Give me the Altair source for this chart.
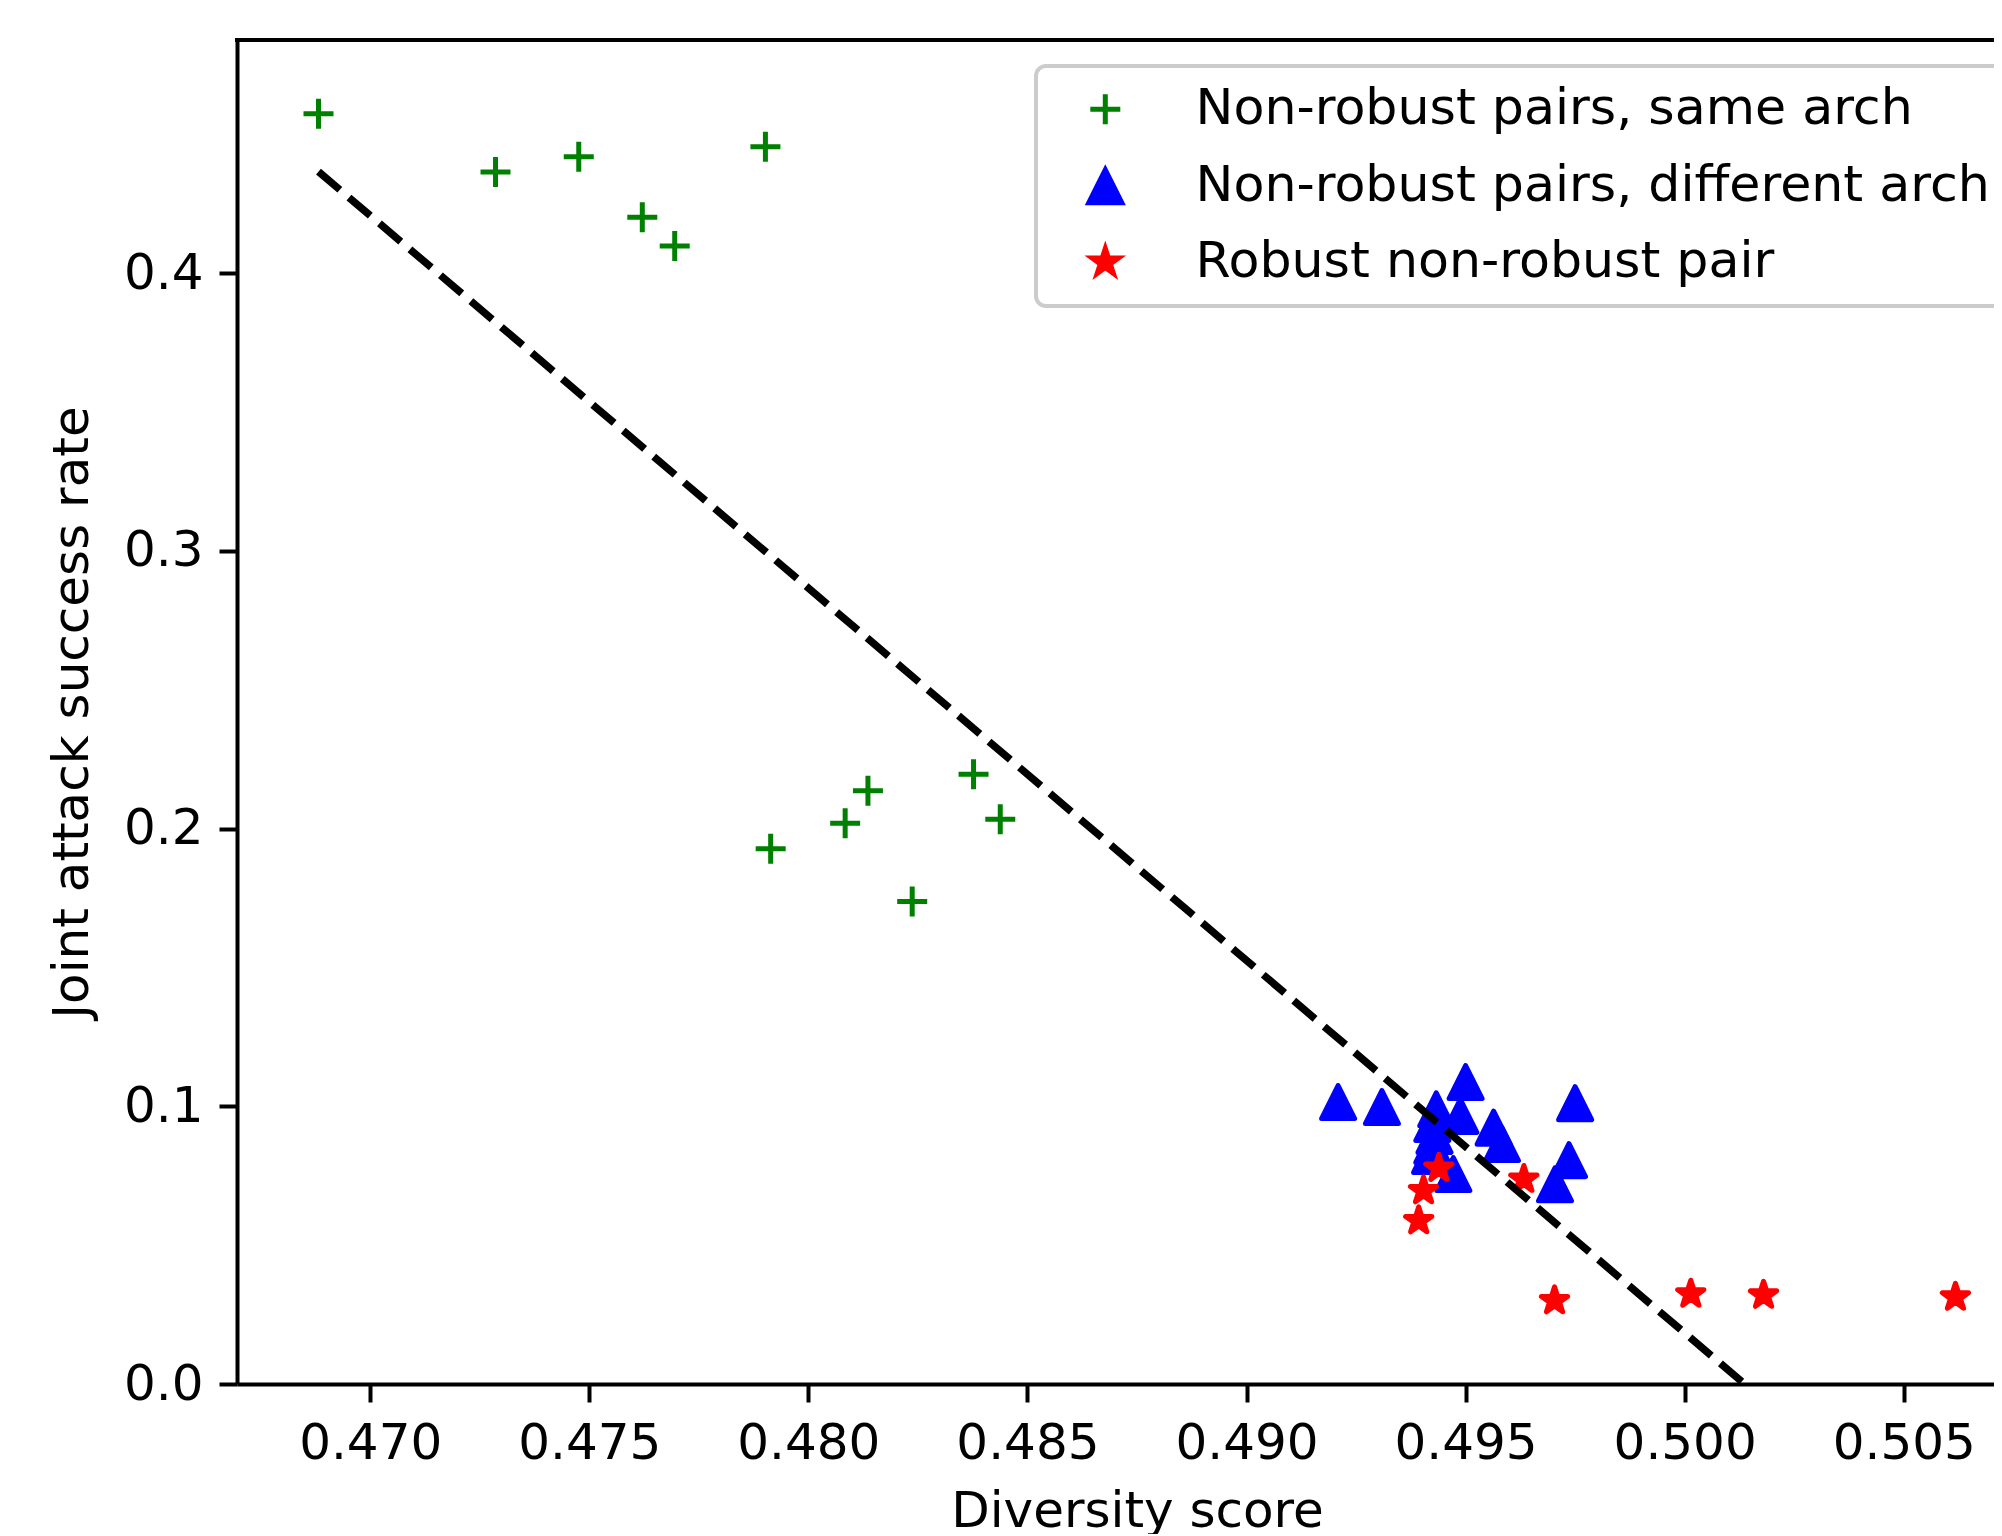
import math
import altair as alt
import pandas as pd

FONT = "DejaVu Sans"

# ---------------- data ----------------
SERIES = ["Non-robust pairs, same arch",
          "Non-robust pairs, different arch",
          "Robust non-robust pair"]
COLORS = ["#008000", "#0000ff", "#ff0000"]

same_x = [0.46882, 0.47286, 0.47476, 0.47902, 0.47621, 0.47695,
          0.47914, 0.48084, 0.48136, 0.48377, 0.48438, 0.48237]
same_y = [0.4573, 0.4364, 0.4419, 0.4455, 0.4201, 0.4097,
          0.1927, 0.2019, 0.2136, 0.2195, 0.2033, 0.1737]

diff_x = [0.49209, 0.49309, 0.49500, 0.49750, 0.49488, 0.49433, 0.49564, 0.49583,
          0.49424, 0.49429, 0.49424, 0.49419, 0.49472, 0.49736, 0.49704]
diff_y = [0.1015, 0.0997, 0.1087, 0.1011, 0.0965, 0.0989, 0.0923, 0.0864,
          0.0936, 0.0893, 0.0857, 0.0821, 0.0756, 0.0806, 0.0719]

rob_x = [0.49439, 0.49404, 0.49393, 0.49633, 0.49703, 0.50014, 0.50180, 0.50618]
rob_y = [0.0777, 0.0696, 0.0588, 0.0737, 0.0300, 0.0324, 0.0320, 0.0313]

line_x = [0.46882, 0.50618]
line_y = [0.4365, -0.0645]

x_ticks = [0.470, 0.475, 0.480, 0.485, 0.490, 0.495, 0.500, 0.505]
y_ticks = [0.0, 0.1, 0.2, 0.3, 0.4]

X_DOMAIN = [0.46696, 0.50706]
Y_DOMAIN = [0.0, 0.48389]

# ---------------- layout ----------------
W, H = 1757, 1344
PAD = {"left": 229, "top": 32, "right": 0, "bottom": 150}


# ---------------- marker shapes (unit paths, scaled by sqrt(size)/2) ----------------
def star_path(r_out, r_in):
    pts = []
    for k in range(10):
        a = math.pi * k / 5
        r = r_out if k % 2 == 0 else r_in
        pts.append((r * math.sin(a), -r * math.cos(a)))
    return "M" + "L".join(f"{px:.4f},{py:.4f}" for px, py in pts) + "Z"


PLUS = "M-1,0H1M0,-1V1"
TRI = "M0,-1.1L1.1,1.1L-1.1,1.1Z"
STAR = star_path(0.92, 0.92 * 0.381966)
SHAPES = [PLUS, TRI, STAR]

rows = []
for name, xs, ys in [(SERIES[0], same_x, same_y),
                     (SERIES[1], diff_x, diff_y),
                     (SERIES[2], rob_x, rob_y)]:
    for a, b in zip(xs, ys):
        rows.append({"x": a, "y": b, "series": name})
pts_df = pd.DataFrame(rows)
line_df = pd.DataFrame({"x": line_x, "y": line_y})

axis_common = dict(
    grid=False, domainColor="black", domainWidth=4, tickColor="black",
    tickWidth=4, tickSize=18, labelFont=FONT, labelFontSize=50,
    labelColor="black", labelPadding=16, titleFont=FONT, titleFontSize=50,
    titleFontWeight="normal", titleColor="black", labelFlush=False,
    labelOverlap=False,
)

X = alt.X("x:Q",
          scale=alt.Scale(domain=X_DOMAIN, nice=False, zero=False),
          axis=alt.Axis(values=x_ticks, format=".3f", title="Diversity score",
                        titleX=900, titleY=142, titleBaseline="alphabetic",
                        titleAlign="center", **axis_common))
Y = alt.Y("y:Q",
          scale=alt.Scale(domain=Y_DOMAIN, nice=False, zero=False),
          axis=alt.Axis(values=y_ticks, format=".1f",
                        title="Joint attack success rate",
                        titleX=-150, titleY=672, titleAngle=270,
                        titleBaseline="alphabetic", titleAlign="center",
                        **axis_common))

legend = alt.Legend(
    title=None, orient="none", legendX=799, legendY=26, padding=18,
    symbolOffset=26, labelOffset=65, rowPadding=24, labelFont=FONT,
    labelFontSize=50.6, labelColor="black", labelLimit=3000,
    strokeColor="#cccccc", cornerRadius=10, fillColor="white",
    symbolSize=900, symbolStrokeWidth=5,
)

points = alt.Chart(pts_df).mark_point(
    filled=True, size=900, opacity=1, strokeWidth=5, strokeJoin="round"
).encode(
    x=X, y=Y,
    fill=alt.Fill("series:N", scale=alt.Scale(domain=SERIES, range=COLORS), legend=legend),
    stroke=alt.Stroke("series:N", scale=alt.Scale(domain=SERIES, range=COLORS), legend=legend),
    shape=alt.Shape("series:N", scale=alt.Scale(domain=SERIES, range=SHAPES), legend=legend),
)

line = alt.Chart(line_df).mark_line(
    color="black", strokeWidth=7.5, strokeDash=[28, 12], clip=True
).encode(x=X, y=Y)

top_spine = alt.Chart(pd.DataFrame({"d": [0]})).mark_rule(
    color="black", strokeWidth=4
).encode(x=alt.value(-2), x2=alt.value(W), y=alt.value(0))

chart = alt.layer(points, line, top_spine).properties(
    width=W, height=H,
    autosize=alt.AutoSizeParams(type="none"),
    padding=PAD,
    background="white",
).configure_view(strokeWidth=0).configure_legend(strokeWidth=4)

chart.save("out.html", embed_options={"renderer": "svg", "actions": False})
